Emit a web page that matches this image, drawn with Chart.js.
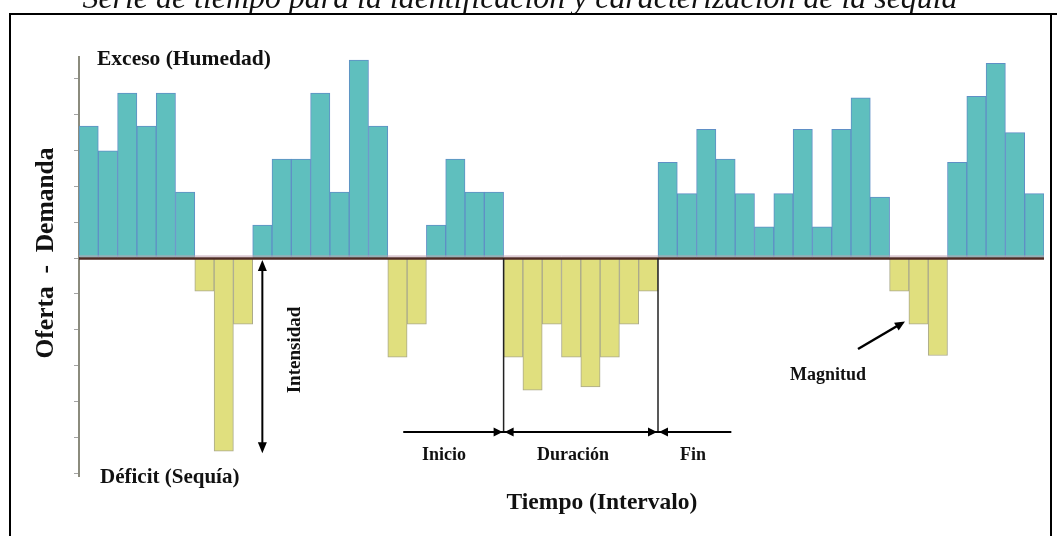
<!DOCTYPE html>
<html>
<head>
<meta charset="utf-8">
<script src="https://cdn.jsdelivr.net/npm/chart.js@4.4.0/dist/chart.umd.min.js"></script>
<style>
    html, body { margin: 0; padding: 0; background: #fff; }
    #wrap { position: relative; width: 1057px; height: 536px; }
</style>
</head>
<body>
<div id="wrap"><canvas id="chart" width="1057" height="536"></canvas></div>
<script>
// Intervalos de tiempo (eje x, sin etiquetas visibles)
const intervalos = [
    "1", "2", "3", "4", "5", "6", "7", "8", "9", "10",
    "11", "12", "13", "14", "15", "16", "17", "18", "19", "20",
    "21", "22", "23", "24", "25", "26", "27", "28", "29", "30",
    "31", "32", "33", "34", "35", "36", "37", "38", "39", "40",
    "41", "42", "43", "44", "45", "46", "47", "48", "49", "50"
];

// Oferta - Demanda por intervalo (positivo = exceso, negativo = deficit)
const ofertaMenosDemanda = [
    4, 3.25, 5, 4, 5, 2,
    -1, -5.85, -2,
    1, 3, 3, 5, 2, 6, 4,
    -3, -2,
    1, 3, 2, 2,
    -3, -4, -2, -3, -3.9, -3, -2, -1,
    2.9, 1.95, 3.9, 3, 1.95, 0.95, 1.95, 3.9, 0.95, 3.9, 4.85, 1.85,
    -1, -2, -2.95,
    2.9, 4.9, 5.9, 3.8, 1.95
];

// Rango y paso de las marcas del eje y
const ejeYMin = -6.6;
const ejeYMax = 6.09;
const ejeYPaso = 1.085;

const colorExceso = "#5fbfbe";
const bordeExceso = "#5f8fc6";
const colorDeficit = "#e0df7e";
const bordeDeficit = "#aaa98c";

const fuenteSerif = '"Liberation Serif", "Times New Roman", serif';

function punta(ctx, x, y, angulo, largo = 10, ancho = 4.5) {
    ctx.save();
    ctx.translate(x, y);
    ctx.rotate(angulo);
    ctx.beginPath();
    ctx.moveTo(0, 0);
    ctx.lineTo(-largo, -ancho);
    ctx.lineTo(-largo, ancho);
    ctx.closePath();
    ctx.fill();
    ctx.restore();
}

function linea(ctx, x1, y1, x2, y2, grosor) {
    ctx.lineWidth = grosor;
    ctx.beginPath();
    ctx.moveTo(x1, y1);
    ctx.lineTo(x2, y2);
    ctx.stroke();
}

function texto(ctx, str, x, y, size, align = "left", estilo = "bold") {
    ctx.font = `${estilo} ${size}px ${fuenteSerif}`;
    ctx.textAlign = align;
    ctx.textBaseline = "alphabetic";
    ctx.fillText(str, x, y);
}

// Anotaciones: linea cero, flechas, textos y marco
const anotaciones = {
    id: "anotaciones",
    afterDatasetsDraw(chart) {
        const { ctx, chartArea, scales: { x, y } } = chart;
        const y0 = y.getPixelForValue(0);
        const borde = (i) => x.getPixelForValue(i - 0.5);

        ctx.save();

        // linea de cero
        ctx.strokeStyle = "#c2a3b3";
        linea(ctx, chartArea.left, y0 - 2, chartArea.right, y0 - 2, 1);
        ctx.strokeStyle = "#4e2b25";
        linea(ctx, chartArea.left, y0 + 0.5, chartArea.right, y0 + 0.5, 2.5);

        ctx.strokeStyle = "#000";
        ctx.fillStyle = "#000";

        // Intensidad (flecha vertical doble)
        const xInt = x.getPixelForValue(9);
        const yInt = y.getPixelForValue(-5.85) + 2;
        linea(ctx, xInt, y0 + 8, xInt, yInt - 8, 2);
        punta(ctx, xInt, y0 + 2, -Math.PI / 2, 11, 4.5);
        punta(ctx, xInt, yInt, Math.PI / 2, 11, 4.5);

        // Inicio / Duracion / Fin
        const xA = borde(22);
        const xB = borde(30);
        const yF = 432;
        ctx.strokeStyle = "#222";
        linea(ctx, xA, y0, xA, yF, 1.5);
        linea(ctx, xB, y0, xB, yF, 1.5);
        ctx.strokeStyle = "#000";
        linea(ctx, borde(16.8), yF, borde(33.8), yF, 2);
        punta(ctx, xA - 1, yF, 0, 9, 4.5);
        punta(ctx, xA + 1, yF, Math.PI, 9, 4.5);
        punta(ctx, xB - 1, yF, 0, 9, 4.5);
        punta(ctx, xB + 1, yF, Math.PI, 9, 4.5);

        // Magnitud
        ctx.strokeStyle = "#000";
        linea(ctx, 858, 349, 898, 325.5, 2.5);
        punta(ctx, 905, 321.5, Math.atan2(321.5 - 349, 905 - 858), 10, 4.5);

        // Textos
        ctx.fillStyle = "#111";
        texto(ctx, "Exceso (Humedad)", 97, 65, 21.5);
        texto(ctx, "Déficit (Sequía)", 100, 483, 21);
        texto(ctx, "Inicio", 444, 460, 18, "center");
        texto(ctx, "Duración", 573, 460, 18, "center");
        texto(ctx, "Fin", 693, 460, 18, "center");
        texto(ctx, "Tiempo (Intervalo)", 602, 509, 23.5, "center");
        texto(ctx, "Magnitud", 828, 380, 18, "center");

        ctx.save();
        ctx.translate(53, 253);
        ctx.rotate(-Math.PI / 2);
        texto(ctx, "Oferta  -  Demanda", 0, 0, 25.5, "center");
        ctx.restore();

        ctx.save();
        ctx.translate(300, 350);
        ctx.rotate(-Math.PI / 2);
        texto(ctx, "Intensidad", 0, 0, 19, "center");
        ctx.restore();

        // Titulo (cortado en la parte superior)
        ctx.font = `italic 26px ${fuenteSerif}`;
        const titulo = "Serie de tiempo para la identificación y caracterización de la sequía";
        const tam = 26 * 875 / ctx.measureText(titulo).width;
        texto(ctx, titulo, 520, 8, tam.toFixed(1), "center", "italic");

        // Marco
        ctx.strokeStyle = "#000";
        linea(ctx, 10, 14, 1057, 14, 2);
        linea(ctx, 10, 13, 10, 536, 2);
        linea(ctx, 1051, 13, 1051, 536, 2);

        ctx.restore();
    }
};

const ctx = document.getElementById("chart").getContext("2d");
new Chart(ctx, {
    type: "bar",
    data: {
        labels: intervalos,
        datasets: [{
            data: ofertaMenosDemanda,
            backgroundColor: (c) => (c.raw >= 0 ? colorExceso : colorDeficit),
            borderColor: (c) => (c.raw >= 0 ? bordeExceso : bordeDeficit),
            borderWidth: 1,
            borderSkipped: "start",
            barPercentage: 1,
            categoryPercentage: 1
        }]
    },
    options: {
        responsive: false,
        animation: false,
        layout: { padding: { left: 79, right: 13, top: 57, bottom: 60 } },
        plugins: {
            legend: { display: false },
            tooltip: { enabled: false }
        },
        scales: {
            x: { display: false },
            y: {
                min: ejeYMin,
                max: ejeYMax,
                afterFit: (scale) => { scale.width = 0; },
                ticks: { display: false, stepSize: ejeYPaso, includeBounds: false },
                grid: { drawOnChartArea: false, drawTicks: true, tickLength: 5, color: "#a3a3a3", lineWidth: 1 },
                border: { display: true, color: "#8b8b7d", width: 2 }
            }
        }
    },
    plugins: [anotaciones]
});
</script>
</body>
</html>
